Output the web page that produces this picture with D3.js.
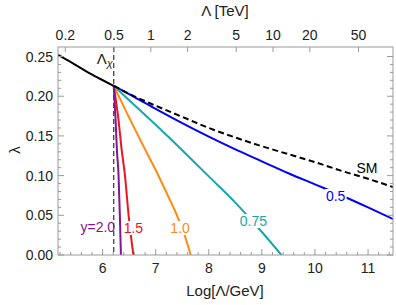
<!DOCTYPE html>
<html><head><meta charset="utf-8">
<script src="https://cdn.jsdelivr.net/npm/d3@7"></script>
<style>body{margin:0;background:#fff;} svg{display:block;font-family:"Liberation Sans",Arial,sans-serif;}</style>
</head><body>
<svg id="c" width="396" height="305"></svg>
<script>
// ---- data ----
const xDomain = [5.16, 11.47];
const yDomain = [0, 0.262];
const xMajorTicks = [6, 7, 8, 9, 10, 11];
const yMajorTicks = [0, 0.05, 0.10, 0.15, 0.20, 0.25];
const yTickLabels = ["0.00", "0.05", "0.10", "0.15", "0.20", "0.25"];
const topTickTeV = [0.2, 0.5, 1, 2, 5, 10, 20, 50];
const topTickLabels = ["0.2", "0.5", "1", "2", "5", "10", "20", "50"];
const lambdaX = 6.21;

const smSolidX = [5.16, 5.45, 5.7, 5.95, 6.21];
const smSolidY = [0.252, 0.241, 0.231, 0.222, 0.213];
const smDashX = [6.21, 6.5, 7.0, 7.5, 8.0, 8.5, 9.0, 9.5, 10.0, 10.5, 11.0, 11.47];
const smDashY = [0.213, 0.203, 0.188, 0.174, 0.160, 0.148, 0.137, 0.127, 0.117, 0.106, 0.096, 0.0856];

const y05X = [6.21, 6.6, 7.0, 7.5, 8.0, 8.5, 9.0, 9.5, 10.0, 10.5, 11.0, 11.47];
const y05Y = [0.213, 0.199, 0.184, 0.166, 0.149, 0.133, 0.118, 0.103, 0.089, 0.075, 0.060, 0.0453];
const y075X = [6.21, 6.5, 7.0, 7.5, 8.0, 8.5, 9.0, 9.37];
const y075Y = [0.213, 0.195, 0.164, 0.132, 0.099, 0.066, 0.029, 0];
const y10X = [6.21, 6.5, 6.8, 7.0, 7.2, 7.4, 7.55, 7.66];
const y10Y = [0.213, 0.173, 0.133, 0.107, 0.079, 0.050, 0.024, 0];
const y15X = [6.21, 6.30, 6.36, 6.42, 6.49, 6.58];
const y15Y = [0.213, 0.170, 0.132, 0.101, 0.050, 0];
const y20X = [6.21, 6.245, 6.27, 6.30, 6.325, 6.345];
const y20Y = [0.213, 0.170, 0.132, 0.101, 0.050, 0];

const seriesNames = ["0.5", "0.75", "1.0", "1.5", "y=2.0"];
const seriesColors = ["#0000ff", "#15a8a8", "#ff8a12", "#f0141e", "#84158e"];
// label anchor positions (data coordinates) for contour labels
const labelX = [10.39, 8.84, 7.46, 6.58, 5.91, 10.98];
const labelY = [0.0743, 0.0428, 0.034, 0.034, 0.035, 0.110];

// ---- chart ----
const svg = d3.select("#c");
const L = 58, R = 393, T = 47, B = 255;
const x = d3.scaleLinear().domain(xDomain).range([L, R]);
const y = d3.scaleLinear().domain(yDomain).range([B, T]);
const frameCol = "#9a9a9a", textCol = "#222";

svg.append("defs").append("clipPath").attr("id", "clip")
  .append("rect").attr("x", L).attr("y", T).attr("width", R - L).attr("height", B - T);

const g = svg.append("g").attr("clip-path", "url(#clip)");
const line = d3.line().x(d => x(d[0])).y(d => y(d[1])).curve(d3.curveMonotoneX);
const zip = (a, b) => a.map((v, i) => [v, b[i]]);

// vertical dashed Lambda_X
g.append("line").attr("x1", x(lambdaX)).attr("x2", x(lambdaX)).attr("y1", T).attr("y2", B)
  .attr("stroke", "#333").attr("stroke-width", 1.2).attr("stroke-dasharray", "5,3");

const series = [[y05X, y05Y], [y075X, y075Y], [y10X, y10Y], [y15X, y15Y], [y20X, y20Y]];
series.forEach((s, i) => {
  g.append("path").attr("d", line(zip(s[0], s[1]))).attr("fill", "none")
    .attr("stroke", seriesColors[i]).attr("stroke-width", 2);
});
g.append("path").attr("d", line(zip(smDashX, smDashY))).attr("fill", "none")
  .attr("stroke", "#000").attr("stroke-width", 2).attr("stroke-dasharray", "6,3.5");
g.append("path").attr("d", line(zip(smSolidX, smSolidY))).attr("fill", "none")
  .attr("stroke", "#000").attr("stroke-width", 2);

// labels
const labelTexts = seriesNames.concat(["SM"]);
const labelCols = seriesColors.concat(["#000"]);
labelTexts.forEach((t, i) => {
  const lg = svg.append("g");
  const tx = lg.append("text").attr("x", x(labelX[i])).attr("y", y(labelY[i]))
    .attr("text-anchor", "middle").attr("dominant-baseline", "central")
    .attr("font-size", 14).attr("fill", labelCols[i]).text(t);
  if (i < 4) {
    const bb = tx.node().getBBox();
    lg.insert("rect", "text").attr("x", bb.x - 1).attr("y", bb.y + 1)
      .attr("width", bb.width + 2).attr("height", bb.height - 2).attr("fill", "#fff");
  }
});

// Lambda_X label
const lx = svg.append("text").attr("x", x(lambdaX) - 17).attr("y", 64).attr("font-size", 15).attr("fill", textCol);
lx.append("tspan").text("Λ");
lx.append("tspan").attr("font-size", 11).attr("font-style", "italic").attr("dy", 3).text("χ");

// frame
svg.append("rect").attr("x", L).attr("y", T).attr("width", R - L).attr("height", B - T)
  .attr("fill", "none").attr("stroke", frameCol).attr("stroke-width", 1);

// bottom/top x ticks
const xMinor = d3.range(5.2, 11.5, 0.2).filter(v => Math.abs(v - Math.round(v)) > 0.01);
const ax = svg.append("g");
xMajorTicks.forEach(v => {
  ax.append("line").attr("x1", x(v)).attr("x2", x(v)).attr("y1", B).attr("y2", B - 6).attr("stroke", frameCol);
  ax.append("text").attr("x", x(v)).attr("y", B + 18).attr("text-anchor", "middle")
    .attr("font-size", 14).attr("fill", textCol).text(v);
});
xMinor.forEach(v => {
  ax.append("line").attr("x1", x(v)).attr("x2", x(v)).attr("y1", B).attr("y2", B - 3).attr("stroke", frameCol);
});
topTickTeV.forEach((v, i) => {
  const px = x(Math.log(v * 1000));
  ax.append("line").attr("x1", px).attr("x2", px).attr("y1", T).attr("y2", T + 5).attr("stroke", frameCol);
  ax.append("text").attr("x", px).attr("y", T - 7).attr("text-anchor", "middle")
    .attr("font-size", 14).attr("fill", textCol).text(topTickLabels[i]);
});

// y ticks
const yMinor = d3.range(0.01, 0.26, 0.01).filter(v => Math.abs(v * 20 - Math.round(v * 20)) > 0.01);
yMajorTicks.forEach((v, i) => {
  ax.append("line").attr("x1", L).attr("x2", L + 6).attr("y1", y(v)).attr("y2", y(v)).attr("stroke", frameCol);
  ax.append("line").attr("x1", R).attr("x2", R - 6).attr("y1", y(v)).attr("y2", y(v)).attr("stroke", frameCol);
  ax.append("text").attr("x", L - 5).attr("y", y(v)).attr("text-anchor", "end").attr("dominant-baseline", "central")
    .attr("font-size", 14).attr("fill", textCol).text(yTickLabels[i]);
});
yMinor.forEach(v => {
  ax.append("line").attr("x1", L).attr("x2", L + 3).attr("y1", y(v)).attr("y2", y(v)).attr("stroke", frameCol);
  ax.append("line").attr("x1", R).attr("x2", R - 3).attr("y1", y(v)).attr("y2", y(v)).attr("stroke", frameCol);
});

// axis titles
svg.append("text").attr("x", 225).attr("y", 16).attr("text-anchor", "middle").attr("font-size", 15).attr("fill", textCol).text("Λ [TeV]");
svg.append("text").attr("x", 225).attr("y", 296).attr("text-anchor", "middle").attr("font-size", 15).attr("fill", textCol).text("Log[Λ/GeV]");
svg.append("text").attr("transform", "translate(14,150) rotate(-90)").attr("text-anchor", "middle")
  .attr("dominant-baseline", "central").attr("font-size", 15).attr("fill", textCol).text("λ");
</script>
</body></html>
